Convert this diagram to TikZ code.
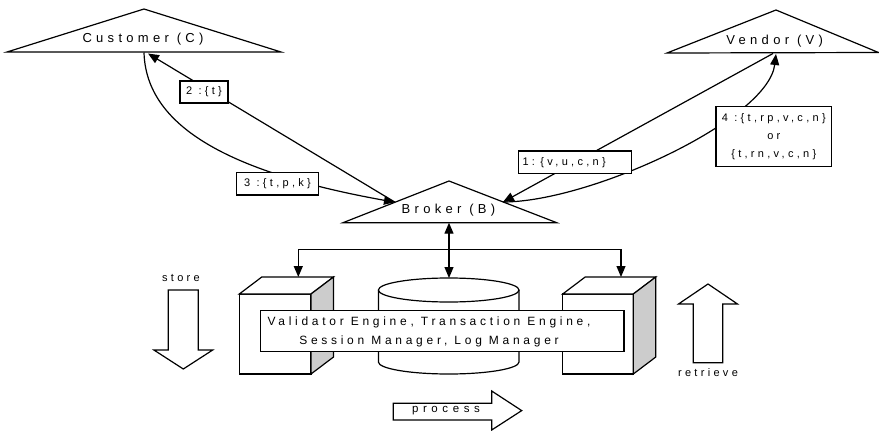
\documentclass[tikz,border=0pt]{standalone}
\usepackage{fontspec}
\setmainfont{Liberation Sans}[LetterSpace=30]
\newfontfamily\partyfont{Liberation Sans}[LetterSpace=33]
\newfontfamily\enginefont{Liberation Sans}[LetterSpace=31]
\newfontfamily\wideflow{Liberation Sans}[LetterSpace=40]
\usetikzlibrary{arrows.meta}
\tikzset{
  outline/.style={draw=black, line width=1.2pt, fill=white},
  conn/.style={draw=black, line width=1.2pt, -{Triangle[length=11pt,width=9pt]}},
  biconn/.style={draw=black, line width=1.2pt, {Triangle[length=11pt,width=9pt]}-{Triangle[length=11pt,width=9pt]}},
  lbl/.style={draw=black, line width=1.2pt, fill=white, inner sep=0pt, align=center,
              font=\fontsize{11}{18.3}\selectfont},
  partytext/.style={inner sep=0pt, font=\partyfont\fontsize{13}{15}\selectfont},
  plain/.style={inner sep=0pt, align=center, font=\fontsize{11}{18.3}\selectfont},
  side/.style={draw=black, line width=1.2pt, fill=black!20},
}
\begin{document}
\begin{tikzpicture}[x=1pt, y=-1pt, line join=miter]
\useasboundingbox (0,0) rectangle (879,431);

% --- parties ---
\draw[outline] (7,52) -- (144,9) -- (281,52) -- cycle;
\node[partytext] (customer) at (143,39.5) {Customer (C)};
\draw[outline] (667,53) -- (776,10) -- (878.5,52.5) -- cycle;
\node[partytext] (vendor) at (774.7,41) {Vendor (V)};
\draw[outline] (343,222.7) -- (449,181) -- (556.7,222.7) -- cycle;
\node[partytext] (broker) at (448.5,210.5) {Broker (B)};

% contact points on the triangles
\coordinate (custIn)  at (148,53.5);
\coordinate (custOut) at (144,52.5);
\coordinate (vendOut) at (773,53.5);
\coordinate (vendIn)  at (776,54);
\coordinate (brokL)   at (395,202.2);
\coordinate (brokR)   at (503,202);
\coordinate (brokBase) at (449,222.7);

% --- message flows ---
\draw[conn] (brokL) -- (custIn);
\draw[conn] (custOut) .. controls (146,120) and (215,170) .. (brokL);
\draw[conn] (vendOut) -- (brokR);
\draw[conn] (brokR) .. controls (590,202) and (768,120) .. (vendIn);

\node[lbl, minimum width=48pt, minimum height=22pt] (m2) at (204,92) {2 :\{t\}};
\node[lbl, minimum width=81.6pt, minimum height=22.7pt] (m3) at (277.5,183.7) {3 :\{t,p,k\}};
\node[lbl, text width=105pt, align=left, inner xsep=4pt, minimum height=22.3pt] (m1) at (575,162.2) {1: \{v,u,c,n\}};
\node[lbl, minimum width=115.7pt, minimum height=60pt] (m4) at (773.8,136.7) {4 :\{t,rp,v,c,n\}\\or\\\{t,rn,v,c,n\}};

% --- back-end components ---
% left unit
\draw[outline] (239.3,294) rectangle (311,374);
\draw[outline] (239.3,294) -- (261.8,277) -- (333.5,277) -- (311,294) -- cycle;
\draw[side] (311,294) -- (333.5,277) -- (333.5,357) -- (311,374) -- cycle;
% right unit
\draw[outline] (562.7,294) rectangle (633.3,374);
\draw[outline] (562.7,294) -- (585.2,277) -- (655.8,277) -- (633.3,294) -- cycle;
\draw[side] (633.3,294) -- (655.8,277) -- (655.8,357) -- (633.3,374) -- cycle;
% database
\draw[outline] (378.4,290) -- (378.4,362)
  .. controls (378.4,368.63) and (409.9,374) .. (448.7,374)
  .. controls (487.5,374) and (519,368.63) .. (519,362) -- (519,290);
\draw[outline] (448.7,290) ellipse [x radius=70.3, y radius=12];

% engines box
\node[lbl, minimum width=363.3pt, minimum height=41pt] (engbox) at (442.3,331.2) {};
\node[plain, font=\enginefont\fontsize{12}{18.3}\selectfont] (engtext) at (429,331.8)
  {Validator Engine, Transaction Engine,\\Session Manager, Log Manager};

% --- links from the broker ---
\coordinate (cylTop) at (449,278);
\coordinate (bus) at (449,249.3);
\coordinate (lunit) at (298.3,277);
\coordinate (runit) at (621,277);
\draw[biconn] (brokBase) -- (cylTop);
\draw[conn] (bus) -| (lunit);
\draw[conn] (bus) -| (runit);

% --- block arrows ---
\draw[outline] (168.3,290) -- (198.3,290) -- (198.3,350) -- (212.7,350) -- (183.3,369)
  -- (153.9,350) -- (168.3,350) -- cycle;
\node[plain] (store) at (181,278.3) {store};
\draw[outline] (693.3,362.7) -- (722.7,362.7) -- (722.7,304) -- (737.5,304) -- (708,284)
  -- (678.5,304) -- (693.3,304) -- cycle;
\node[plain] (retrieve) at (708,373) {retrieve};
\draw[outline] (393.3,403.3) -- (491.7,403.3) -- (491.7,391) -- (521.7,410.6) -- (491.7,430)
  -- (491.7,420) -- (393.3,420) -- cycle;
\node[plain, font=\wideflow\fontsize{11.5}{14}\selectfont] (process) at (446,411) {process};
\end{tikzpicture}
\end{document}
